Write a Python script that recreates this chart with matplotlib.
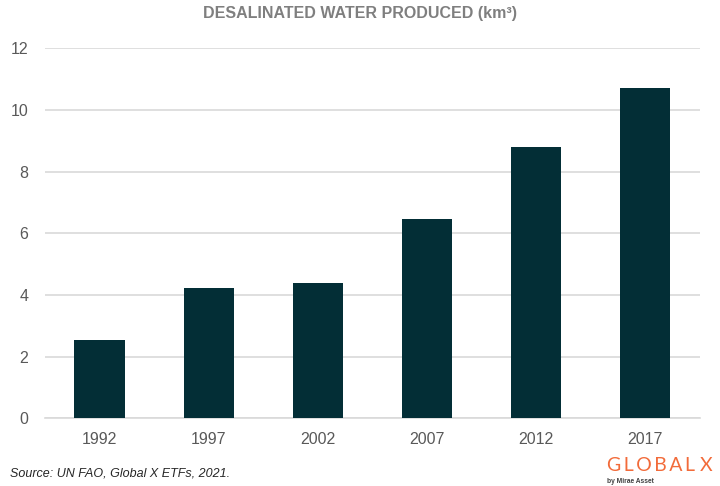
import matplotlib
matplotlib.use("Agg")
import matplotlib.pyplot as plt

years = ["1992", "1997", "2002", "2007", "2012", "2017"]
produced = [2.54, 4.22, 4.38, 6.45, 8.79, 10.7]
y_ticks = [0, 2, 4, 6, 8, 10, 12]

BAR_COLOR = "#032e36"
GRID_COLOR = "#d9d9d9"
TEXT_COLOR = "#595959"

plt.rcParams["font.family"] = ["Liberation Sans", "DejaVu Sans"]

fig = plt.figure(figsize=(7.2, 4.86), dpi=100)
ax = fig.add_axes([0.0625, 0.139, 0.9095, 0.7616])

x = range(len(years))
ax.bar(x, produced, width=0.46, color=BAR_COLOR, zorder=3)

ax.set_xlim(-0.5, len(years) - 0.5)
ax.set_ylim(0, 12)
ax.set_yticks(y_ticks)
ax.set_xticks(list(x))
ax.set_xticklabels(years)
ax.yaxis.grid(True, color=GRID_COLOR, linewidth=1.2, zorder=0)
ax.tick_params(axis="both", length=0, labelsize=11.5, labelcolor=TEXT_COLOR)
ax.tick_params(axis="x", pad=10)
ax.tick_params(axis="y", pad=12)
for side in ["top", "right", "left"]:
    ax.spines[side].set_visible(False)
ax.spines["bottom"].set_color(GRID_COLOR)
ax.spines["bottom"].set_linewidth(1.2)

fig.text(0.5, 0.972, "DESALINATED WATER PRODUCED (km\u00b3)",
         ha="center", va="center", fontsize=11.5, fontweight="bold",
         color="#7f7f7f")

fig.text(0.014, 0.014, "Source: UN FAO, Global X ETFs, 2021.",
         ha="left", va="bottom", fontsize=9, style="italic", color="#262626")

# logo
fig.text(0.843, 0.025, "G\u2009L\u2009O\u2009B\u2009A\u2009L\u2009\u2009X",
         ha="left", va="bottom", fontsize=14, color="#f26b3a",
         family=["Lato", "DejaVu Sans"])
fig.text(0.843, 0.002, "by Mirae Asset", ha="left", va="bottom",
         fontsize=4.8, color="#404040", fontweight="bold")

fig.savefig("out.png", dpi=100)
